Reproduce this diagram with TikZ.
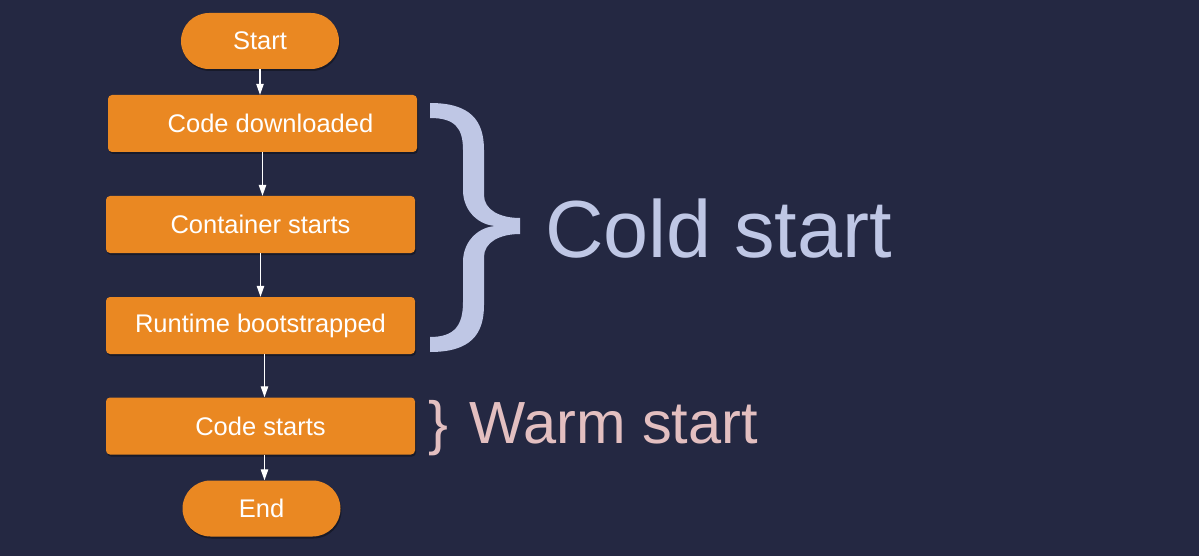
\documentclass[tikz,border=0pt]{standalone}
\usepackage{fontspec}
\setmainfont{Liberation Sans}
\usetikzlibrary{arrows.meta,shadows}
\definecolor{bg}{HTML}{242842}
\definecolor{boxorange}{HTML}{EA8822}
\definecolor{coldc}{HTML}{BFC7E5}
\definecolor{warmc}{HTML}{E3BFC0}
\begin{document}
\begin{tikzpicture}[x=1pt,y=-1pt,
  procbox/.style={draw=none, fill=boxorange, rounded corners=4pt,
    minimum width=309pt, minimum height=57pt, inner sep=0pt, text=white,
    font=\fontsize{25.5}{29}\selectfont,
    drop shadow={shadow xshift=1pt, shadow yshift=-2pt, fill=black, opacity=0.35}},
  termbox/.style={procbox, rounded corners=28pt, minimum width=158pt, minimum height=56pt},
  flow/.style={draw=white, line width=1.1pt, -{Triangle[length=11pt,width=7.5pt]}},
  bigtext/.style={anchor=base west, inner sep=0pt}]
\fill[bg] (0,0) rectangle (1199,556);
\useasboundingbox (0,0) rectangle (1199,556);
\node[termbox] (start) at (260,41) {Start};
\node[procbox] (cd) at (262.5,123.5) {\hspace*{16pt}Code downloaded};
\node[procbox] (cs) at (260.5,224.5) {Container starts};
\node[procbox] (rb) at (260.5,325.5) {Runtime bootstrapped};
\node[procbox] (cos) at (260.5,426) {Code starts};
\node[termbox] (end) at (261.5,508.5) {End};
\draw[flow] (start.south) -- (start.south |- cd.north);
\draw[flow] (cd.south) -- (cd.south |- cs.north);
\draw[flow] (cs.south) -- (cs.south |- rb.north);
\draw[flow] ([xshift=4pt]rb.south) -- ([xshift=4pt]rb.south |- cos.north);
\draw[flow] ([xshift=4pt]cos.south) -- ([xshift=4pt]cos.south |- end.north);
% big brace
\fill[coldc] (430,103) .. controls (470,103) and (484,120) .. (484,150)
  -- (484,195) .. controls (484,210) and (500,218) .. (520,218)
  -- (520,234) .. controls (500,234) and (484,242) .. (484,257)
  -- (484,305) .. controls (484,335) and (470,352) .. (430,352)
  -- (430,337) .. controls (455,337) and (463,325) .. (463,302)
  -- (463,262) .. controls (463,240) and (480,226) .. (497,226)
  .. controls (480,226) and (463,212) .. (463,190)
  -- (463,150) .. controls (463,128) and (455,118) .. (430,118) -- cycle;
\node[bigtext, text=coldc, font=\fontsize{81}{90}\selectfont] (cold) at (545,257) {Cold start};
\node[bigtext, text=warmc, font=\fontsize{59.5}{66}\selectfont] (wbrace) at (428,443) {\}};
\node[bigtext, text=warmc, font=\fontsize{59.5}{66}\selectfont] (warm) at (469,443) {Warm start};
\end{tikzpicture}
\end{document}
